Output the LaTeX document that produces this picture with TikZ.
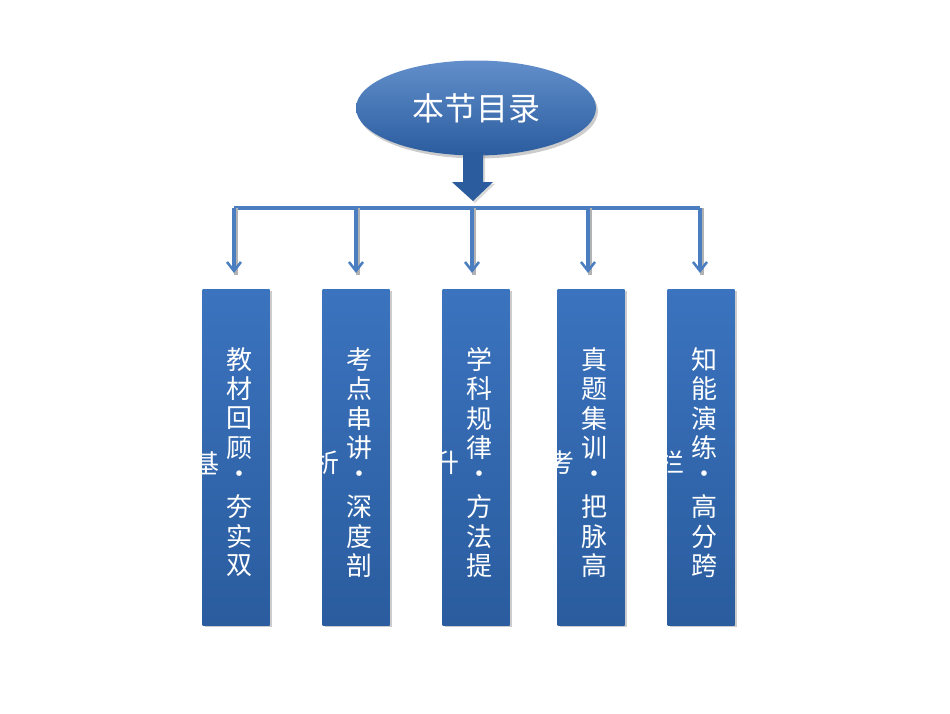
\documentclass[tikz,border=0pt]{standalone}
\usepackage{fontspec}
\newfontfamily\cjk{Noto Sans CJK SC}
\usetikzlibrary{arrows.meta,shadows,shapes.geometric}
\definecolor{bl}{HTML}{3B73BE}
\definecolor{bd}{HTML}{2A5C9E}
\definecolor{ln}{HTML}{4A7EC0}
\begin{document}
\begin{tikzpicture}[x=1pt,y=-1pt,
  boxst/.style={draw=none,top color=bl,bottom color=bd,minimum width=67pt,minimum height=336pt,drop shadow={shadow xshift=2pt,shadow yshift=-2pt,opacity=0.4}},
  ch/.style={text=white,font=\cjk\fontsize{26}{26}\selectfont,inner sep=0pt},
  conn/.style={ln,line width=3.5pt},
  tip/.style={-{Straight Barb[length=9pt,width=14pt,line width=2.5pt]}}]
\useasboundingbox (0,0) rectangle (950,713);
\node[ellipse,minimum width=240pt,minimum height=95pt,top color=bl!80!white,bottom color=bd,drop shadow={shadow xshift=2pt,shadow yshift=-3pt,opacity=0.4},text=white,font=\cjk\fontsize{32}{32}\selectfont] (top) at (476,108) {本节目录};
\fill[bd,drop shadow={shadow xshift=2pt,shadow yshift=-2pt,opacity=0.3}] (463,152) -- (483,152) -- (483,182) -- (493,182) -- (473,201) -- (452,182) -- (463,182) -- cycle;
\coordinate (L) at (234,208); \coordinate (R) at (700,208);
\draw[conn] (L) -- (R);
\foreach \bx/\lx/\name in {236/234/a,356/356/b,476/472/c,591/588/d,701/700/e}{
  \coordinate (t\name) at (\lx,208);
  \coordinate (h\name) at (\lx,273);
  \draw[gray!60,line width=3.5pt] ([xshift=2pt]t\name) -- ([xshift=2pt,yshift=-2pt]h\name);
  \draw[conn,tip] (t\name) -- (h\name);
  \node[boxst] (\name) at (\bx,457) {};
}
\foreach \bx/\txt/\extra in {236/{教,材,回,顾,•,夯,实,双}/基,356/{考,点,串,讲,•,深,度,剖}/析,476/{学,科,规,律,•,方,法,提}/升,591/{真,题,集,训,•,把,脉,高}/考,701/{知,能,演,练,•,高,分,跨}/栏}{
  \foreach \c [count=\i] in \txt {
    \node[ch] at ({\bx+3},{330+\i*29.5}) {\c};
  }
  \begin{scope}
    \clip ({\bx-33.5},289) rectangle ({\bx+33.5},625);
    \node[ch] at ({\bx-30},463) {\extra};
  \end{scope}
}
\end{tikzpicture}
\end{document}
